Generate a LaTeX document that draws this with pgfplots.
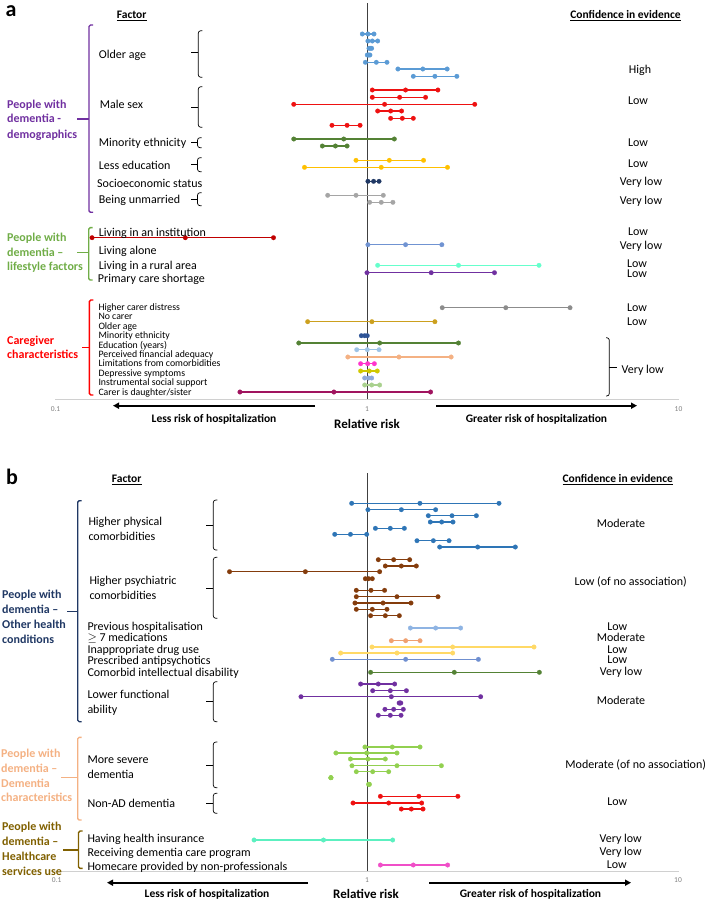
\documentclass[border=0pt]{standalone}
\usepackage{fontspec}
\setmainfont{Carlito}
\usepackage{pgfplots}
\pgfplotsset{compat=1.18}
\usetikzlibrary{arrows.meta}

\definecolor{vline}{HTML}{404040}
\definecolor{axgray}{HTML}{D0D0D0}
\definecolor{tickgray}{HTML}{808080}
% panel a
\definecolor{cAge}{HTML}{5B9BD5}
\definecolor{cRed}{HTML}{EE1111}
\definecolor{cGreen}{HTML}{548235}
\definecolor{cYellow}{HTML}{FFC000}
\definecolor{cNavy}{HTML}{203864}
\definecolor{cGray}{HTML}{A5A5A5}
\definecolor{cInst}{HTML}{C00000}
\definecolor{cAlone}{HTML}{7093D2}
\definecolor{cAqua}{HTML}{66FFCC}
\definecolor{cPurple}{HTML}{7030A0}
\definecolor{cDGray}{HTML}{8C8C8C}
\definecolor{cGold}{HTML}{CCA01E}
\definecolor{cBlue2}{HTML}{2F5597}
\definecolor{cLBlue}{HTML}{9DC3E6}
\definecolor{cPeach}{HTML}{F4B183}
\definecolor{cMag}{HTML}{FF33CC}
\definecolor{cOlY}{HTML}{D0C800}
\definecolor{cBGray}{HTML}{8EA9DB}
\definecolor{cLGreen}{HTML}{A9D18E}
\definecolor{cDMag}{HTML}{A0145F}
% panel b
\definecolor{cPhys}{HTML}{2E75B6}
\definecolor{cPsy}{HTML}{843C0C}
\definecolor{cPrev}{HTML}{8FB4E3}
\definecolor{cMed}{HTML}{EFA070}
\definecolor{cInap}{HTML}{FFD966}
\definecolor{cAnti}{HTML}{6F8FD0}
\definecolor{cSev}{HTML}{92D050}
\definecolor{cIns}{HTML}{5CF0C0}
\definecolor{cHome}{HTML}{F04FC8}
% group colours
\definecolor{gPurple}{HTML}{7030A0}
\definecolor{gGreen}{HTML}{70AD47}
\definecolor{gRed}{HTML}{FF0000}
\definecolor{gNavy}{HTML}{203864}
\definecolor{gPeach}{HTML}{F4B183}
\definecolor{gOlive}{HTML}{806000}

% one estimate with its interval: colour, y, low, point, high
\newcommand{\ci}[5]{\addplot[color=#1, mark=*, mark size=2.3pt, line width=1.3pt, mark options={solid, line width=0.2pt}] coordinates {(#3,#2) (#4,#2) (#5,#2)};}

% coloured group bracket: colour, x, ytop, ybot, ymid, tick end x
\newcommand{\gbr}[6]{\draw[#1, line width=1.4pt, rounded corners=1.5pt] (#2+4,#3) -- (#2,#3) -- (#2,#4) -- (#2+4,#4); \draw[#1, line width=1.4pt] (#2,#5) -- (#6,#5);}
% inner black bracket: x, ytop, ybot, ymid
\newcommand{\ibr}[4]{\draw[black, line width=0.7pt, rounded corners=2.5pt] (#1+4,#2) -- (#1,#2) -- (#1,#4) -- (#1,#3) -- (#1+4,#3); \draw[black, line width=0.7pt] (#1,#4) -- (#1-7,#4);}

\tikzset{
  L/.style={anchor=base west, inner sep=0pt, yshift=-4pt, font=\fontsize{12}{14}\selectfont},
  S/.style={anchor=base west, inner sep=0pt, yshift=-3.3pt, font=\fontsize{9.8}{12}\selectfont},
  C/.style={anchor=base, inner sep=0pt, yshift=-4pt, font=\fontsize{12}{14}\selectfont},
  G/.style={anchor=base west, inner sep=0pt, yshift=-4pt, font=\fontsize{12}{14}\selectfont\bfseries},
  H/.style={anchor=base, inner sep=0pt, yshift=-4pt, font=\fontsize{11.5}{14}\selectfont\bfseries},
  T/.style={anchor=base, inner sep=0pt, yshift=-2.5pt, font=\fontsize{7.5}{9}\selectfont, text=tickgray},
  B/.style={anchor=base, inner sep=0pt, yshift=-4pt, font=\fontsize{11.5}{14}\selectfont\bfseries},
  R/.style={anchor=base, inner sep=0pt, yshift=-4.5pt, font=\fontsize{13}{15}\selectfont\bfseries},
}

\begin{document}
\begin{tikzpicture}
% ---------------- panel a ----------------
\begin{axis}[at={(55.5pt,-399pt)}, anchor=south west, scale only axis,
  width=623pt, height=396pt, xmode=log, xmin=0.1, xmax=10, ymin=3, ymax=399,
  y dir=reverse, axis lines=none, clip=false]
\draw[axgray, line width=0.8pt] (axis cs:0.1,399) -- (axis cs:10,399);
\draw[vline, line width=0.9pt] (axis cs:1,3) -- (axis cs:1,399);
% older age
\ci{cAge}{34}{0.966}{1.007}{1.053}
\ci{cAge}{41}{1.007}{1.04}{1.082}
\ci{cAge}{48.3}{1.015}{1.025}{1.035}
\ci{cAge}{55}{1.002}{1.012}{1.022}
\ci{cAge}{62.3}{0.988}{1.071}{1.159}
\ci{cAge}{69}{1.257}{1.511}{1.809}
\ci{cAge}{76.3}{1.408}{1.652}{1.943}
% male sex
\ci{cRed}{90}{1.04}{1.33}{1.689}
\ci{cRed}{97.3}{1.04}{1.273}{1.542}
\ci{cRed}{104.3}{0.582}{1.139}{2.218}
\ci{cRed}{111}{1.082}{1.191}{1.291}
\ci{cRed}{118.3}{1.191}{1.298}{1.408}
\ci{cRed}{125.3}{0.772}{0.863}{0.95}
% minority ethnicity
\ci{cGreen}{139}{0.582}{0.842}{1.224}
\ci{cGreen}{146}{0.719}{0.792}{0.863}
% less education
\ci{cYellow}{160.3}{0.922}{1.179}{1.519}
\ci{cYellow}{167.3}{0.63}{1.111}{1.813}
% socioeconomic status
\ci{cNavy}{181.3}{1.007}{1.05}{1.093}
% unmarried
\ci{cGray}{195.3}{0.748}{0.922}{1.128}
\ci{cGray}{202.3}{1.02}{1.111}{1.211}
% lifestyle
\ci{cInst}{237.7}{0.131}{0.261}{0.501}
\ci{cAlone}{244.7}{1.007}{1.33}{1.739}
\ci{cAqua}{265.3}{1.082}{1.967}{3.566}
\ci{cPurple}{272.7}{1.0}{1.607}{2.566}
% caregiver
\ci{cDGray}{307.7}{1.744}{2.79}{4.485}
\ci{cGold}{321.7}{0.645}{1.037}{1.652}
\ci{cBlue2}{335.7}{0.959}{0.983}{1.002}
\ci{cGreen}{343}{0.604}{1.098}{1.967}
\ci{cLBlue}{349.7}{0.927}{1.002}{1.093}
\ci{cPeach}{357}{0.868}{1.266}{1.863}
\ci{cMag}{363.7}{0.954}{1.005}{1.056}
\ci{cOlY}{371}{0.954}{1.017}{1.079}
\ci{cBGray}{378}{0.983}{1.012}{1.035}
\ci{cLGreen}{385}{0.983}{1.035}{1.098}
\ci{cDMag}{392}{0.391}{0.783}{1.6}
\end{axis}

% ---------------- panel b ----------------
\begin{axis}[at={(55.5pt,-871pt)}, anchor=south west, scale only axis,
  width=623pt, height=398pt, xmode=log, xmin=0.1, xmax=10, ymin=473, ymax=871,
  y dir=reverse, axis lines=none, clip=false]
\draw[axgray, line width=0.8pt] (axis cs:0.1,871) -- (axis cs:10,871);
\draw[vline, line width=0.9pt] (axis cs:1,473) -- (axis cs:1,871);
% physical comorbidities
\ci{cPhys}{503.3}{0.893}{1.479}{2.653}
\ci{cPhys}{509.7}{1.007}{1.289}{1.661}
\ci{cPhys}{515.7}{1.573}{1.875}{2.244}
\ci{cPhys}{522}{1.597}{1.737}{1.888}
\ci{cPhys}{528.3}{1.064}{1.188}{1.318}
\ci{cPhys}{534.3}{0.788}{0.885}{0.998}
\ci{cPhys}{540.7}{1.447}{1.633}{1.834}
\ci{cPhys}{547}{1.711}{2.266}{2.994}
% psychiatric comorbidities
\ci{cPsy}{559.7}{1.087}{1.218}{1.371}
\ci{cPsy}{566}{1.145}{1.289}{1.44}
\ci{cPsy}{571.7}{0.362}{0.634}{1.098}
\ci{cPsy}{578.7}{0.988}{1.012}{1.04}
\ci{cPsy}{590.3}{0.924}{1.03}{1.139}
\ci{cPsy}{596.7}{0.924}{1.248}{1.69}
\ci{cPsy}{603}{0.915}{1.126}{1.384}
\ci{cPsy}{609.3}{0.924}{1.04}{1.159}
\ci{cPsy}{615.7}{1.027}{1.145}{1.27}
% single factors
\ci{cPrev}{628}{1.378}{1.661}{1.998}
\ci{cMed}{640.7}{1.197}{1.331}{1.48}
\ci{cInap}{647}{1.038}{1.884}{3.437}
\ci{cInap}{653}{0.823}{1.248}{1.884}
\ci{cAnti}{659.3}{0.774}{1.331}{2.278}
\ci{cGreen}{672.3}{1.027}{1.907}{3.575}
% functional ability
\ci{cPurple}{684}{0.954}{1.087}{1.227}
\ci{cPurple}{690.7}{1.043}{1.188}{1.338}
\ci{cPurple}{696.7}{0.614}{1.197}{2.317}
\ci{cPurple}{703}{1.268}{1.276}{1.284}
\ci{cPurple}{709.3}{1.142}{1.218}{1.308}
\ci{cPurple}{715.3}{1.087}{1.188}{1.286}
% more severe dementia
\ci{cSev}{747}{0.985}{1.206}{1.48}
\ci{cSev}{753}{0.795}{0.998}{1.248}
\ci{cSev}{759}{0.885}{1.007}{1.145}
\ci{cSev}{765.7}{0.895}{1.248}{1.733}
\ci{cSev}{771.7}{0.924}{1.043}{1.174}
\ci{cSev}{777.7}{0.766}{0.766}{0.766}
\ci{cSev}{784.3}{1.012}{1.015}{1.018}
% non-AD dementia
\ci{cRed}{796.3}{1.104}{1.467}{1.958}
\ci{cRed}{803}{0.902}{1.174}{1.498}
\ci{cRed}{809}{1.289}{1.388}{1.513}
% healthcare services
\ci{cIns}{840}{0.434}{0.725}{1.209}
\ci{cHome}{865}{1.104}{1.408}{1.815}
\end{axis}

\begin{scope}[x=1pt, y=-1pt]
% ===== panel a text =====
\node[anchor=center, inner sep=0pt, font=\fontsize{22}{24}\selectfont\bfseries] at (11,11) {a};
\node[H] at (131.7,15) {\underline{Factor}};
\node[H] at (625.5,15) {\underline{Confidence in evidence}};
% group labels
\node[G, text=gPurple] at (7,104.3) {People with};
\node[G, text=gPurple] at (7,119) {dementia -};
\node[G, text=gPurple] at (7,134.3) {demographics};
\node[G, text=gGreen] at (7,237.7) {People with};
\node[G, text=gGreen] at (7,252.3) {dementia --};
\node[G, text=gGreen] at (7,266.7) {lifestyle factors};
\node[G, text=gRed] at (7,340) {Caregiver};
\node[G, text=gRed] at (7,354.7) {characteristics};
\gbr{gPurple}{89}{25}{212.3}{119}{77}
\gbr{gGreen}{88.7}{227.7}{280}{252.3}{77}
\gbr{gRed}{89.3}{300}{395}{347.5}{82}
% factor labels
\node[L] at (98.7,54.3) {Older age};
\node[L] at (99.7,105) {Male sex};
\node[L] at (98.7,142.3) {Minority ethnicity};
\node[L] at (98.7,165.7) {Less education};
\node[L] at (97,184) {Socioeconomic status};
\node[L] at (98.7,200) {Being unmarried};
\node[L] at (98.7,232.3) {Living in an institution};
\node[L] at (98.7,250) {Living alone};
\node[L] at (98.7,265.7) {Living in a rural area};
\node[L] at (97.7,278.3) {Primary care shortage};
\node[S] at (98.3,306.7) {Higher carer distress};
\node[S] at (98.3,316) {No carer};
\node[S] at (98.3,325.7) {Older age};
\node[S] at (98.3,335.3) {Minority ethnicity};
\node[S] at (98.3,344.7) {Education (years)};
\node[S] at (98.3,354) {Perceived financial adequacy};
\node[S] at (98.3,363.3) {Limitations from comorbidities};
\node[S] at (98.3,372.7) {Depressive symptoms};
\node[S] at (98.3,382) {Instrumental social support};
\node[S] at (98.3,391.7) {Carer is daughter/sister};
% inner brackets
\ibr{198.3}{30.7}{77.3}{52.3}
\ibr{198.3}{86.7}{127.3}{107.3}
\ibr{197.5}{137.7}{147.7}{142.7}
\ibr{197.5}{157.7}{171.7}{164.3}
\ibr{197.5}{192.7}{205.7}{199}
% confidence
\node[C] at (640,70) {High};
\node[C] at (638,101) {Low};
\node[C] at (638,143) {Low};
\node[C] at (638,164) {Low};
\node[C] at (641,182) {Very low};
\node[C] at (641,201) {Very low};
\node[C] at (638,232) {Low};
\node[C] at (641,245) {Very low};
\node[C] at (637,263.3) {Low};
\node[C] at (637,273.3) {Low};
\node[C] at (637,307.3) {Low};
\node[C] at (637,321.7) {Low};
\node[C] at (642.7,369) {Very low};
\draw[black, line width=0.7pt, rounded corners=2.5pt] (606,337.7) -- (609.3,337.7) -- (609.3,396) -- (606,396);
\draw[black, line width=0.7pt] (609.3,367) -- (617,367);
% axis annotations
\node[T] at (55.5,409) {0.1};
\node[T] at (367,409) {1};
\node[T] at (678.5,409) {10};
\draw[black, line width=1.8pt, -{Triangle[length=6pt, width=6pt]}] (315,405.7) -- (113,405.7);
\draw[black, line width=1.8pt, -{Triangle[length=6pt, width=6pt]}] (436,405.7) -- (637,405.7);
\node[B] at (214,418) {Less risk of hospitalization};
\node[B] at (536.5,418) {Greater risk of hospitalization};
\node[R] at (367,423.5) {Relative risk};

% ===== panel b text =====
\node[anchor=center, inner sep=0pt, font=\fontsize{22}{24}\selectfont\bfseries] at (12,477) {b};
\node[H] at (126.7,478.3) {\underline{Factor}};
\node[H] at (617.8,478.3) {\underline{Confidence in evidence}};
\node[G, text=gNavy] at (2,594.3) {People with};
\node[G, text=gNavy] at (2,609.3) {dementia --};
\node[G, text=gNavy] at (2,624.3) {Other health};
\node[G, text=gNavy] at (2,639.3) {conditions};
\node[G, text=gPeach] at (1,753.3) {People with};
\node[G, text=gPeach] at (1,768.3) {dementia --};
\node[G, text=gPeach] at (1,783.3) {Dementia};
\node[G, text=gPeach] at (1,797.7) {characteristics};
\node[G, text=gOlive] at (2,826.7) {People with};
\node[G, text=gOlive] at (2,841.7) {dementia --};
\node[G, text=gOlive] at (2,856.7) {Healthcare};
\node[G, text=gOlive] at (2,871.2) {services use};
\gbr{gNavy}{77.7}{500.7}{721.7}{611.3}{66.7}
\gbr{gPeach}{77.7}{737.3}{820}{777.7}{61}
\gbr{gOlive}{78.5}{831}{868.3}{850}{63}
% factor labels
\node[L] at (88.3,521.7) {Higher physical};
\node[L] at (88.3,536) {comorbidities};
\node[L] at (89.3,580) {Higher psychiatric};
\node[L] at (89.3,595.3) {comorbidities};
\node[L] at (87.3,626) {Previous hospitalisation};
\node[L] at (87.3,637.7) {$\geq$ 7 medications};
\node[L] at (87.3,649.3) {Inappropriate drug use};
\node[L] at (87.3,660.7) {Prescribed antipsychotics};
\node[L] at (87.3,672.7) {Comorbid intellectual disability};
\node[L] at (87.3,694.3) {Lower functional};
\node[L] at (87.3,709.3) {ability};
\node[L] at (87.3,759.3) {More severe};
\node[L] at (87.3,774.3) {dementia};
\node[L] at (87.3,803) {Non-AD dementia};
\node[L] at (87.3,838.3) {Having health insurance};
\node[L] at (87.3,852.7) {Receiving dementia care program};
\node[L] at (87.3,866.7) {Homecare provided by non-professionals};
% inner brackets
\ibr{213.3}{500}{550}{525}
\ibr{213.3}{557.3}{618.3}{588.3}
\ibr{213.3}{681.7}{721.7}{701.7}
\ibr{213.3}{742}{787.7}{765}
\ibr{213.3}{793.3}{813.3}{803}
% confidence
\node[C] at (621,523.3) {Moderate};
\node[C] at (630.7,581) {Low (of no association)};
\node[C] at (617.3,626) {Low};
\node[C] at (621,637.7) {Moderate};
\node[C] at (617.3,649) {Low};
\node[C] at (617.3,659) {Low};
\node[C] at (621,671) {Very low};
\node[C] at (621,700) {Moderate};
\node[C] at (635.7,764) {Moderate (of no association)};
\node[C] at (617.3,801.7) {Low};
\node[C] at (620.7,838) {Very low};
\node[C] at (620.7,851.3) {Very low};
\node[C] at (616.7,864.3) {Low};
% axis annotations
\node[T] at (56.7,880) {0.1};
\node[T] at (367,880) {1};
\node[T] at (678,880) {10};
\draw[black, line width=1.8pt, -{Triangle[length=6pt, width=6pt]}] (308,882.7) -- (107,882.7);
\draw[black, line width=1.8pt, -{Triangle[length=6pt, width=6pt]}] (429,882.7) -- (631,882.7);
\node[B] at (207,893.5) {Less risk of hospitalization};
\node[B] at (530.5,893.5) {Greater risk of hospitalization};
\node[R] at (366,893.5) {Relative risk};
\end{scope}
\pgfresetboundingbox
\useasboundingbox (0pt,0pt) rectangle (709pt,-901pt);
\end{tikzpicture}
\end{document}
